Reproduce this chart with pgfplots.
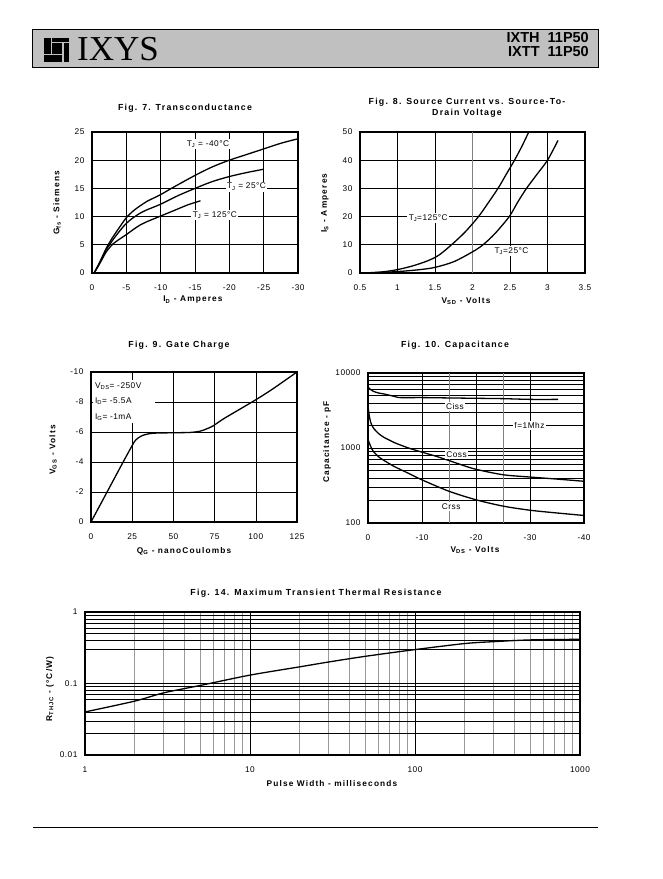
\documentclass[border=0pt]{standalone}
\usepackage{fontspec}
\setmainfont{Liberation Sans}[LetterSpace=6]
\newfontfamily\tfont{Liberation Sans}[LetterSpace=14]
\newfontfamily\plainfont{Liberation Sans}
\newfontfamily\seriffont{Liberation Serif}
\usepackage{pgfplots}
\pgfplotsset{compat=1.18}
\definecolor{hdr}{RGB}{192,192,192}
\pgfplotsset{ds/.style={anchor=south west, scale only axis,
  axis line style={line width=1.1pt},
  grid=major, major grid style={black, line width=0.6pt},
  major tick length=0pt, minor tick length=0pt,
  tick label style={font=\fontsize{8.3}{9}\selectfont},
  /pgf/number format/assume math mode=true,
  yticklabel style={xshift=-4pt}, xticklabel style={yshift=-8pt}},
  crv/.style={black, line width=1.3pt, smooth, no marks}}
\tikzset{ttl/.style={font=\tfont\bfseries\fontsize{8.8}{11}\selectfont, align=center},
  lab/.style={font=\tfont\bfseries\fontsize{8.3}{10}\selectfont},
  inl/.style={font=\fontsize{8.3}{10}\selectfont, fill=white, inner sep=1.5pt}}
\begin{document}
\begin{tikzpicture}[x=1pt,y=1pt]
\useasboundingbox (0,0) rectangle (662,879);
% header
\draw[fill=hdr, line width=1pt] (32,811) rectangle (598,849);
\fill[black] (44,817) rectangle (69,841);
\fill[hdr] (50.7,823.7) rectangle (52,841);
\fill[hdr] (51,835.7) rectangle (69,837);
\fill[hdr] (62.3,817) rectangle (63.5,837);
\fill[hdr] (44,823.7) rectangle (63.5,825);
\node[anchor=base west, inner sep=0, font=\seriffont\fontsize{35}{35}\selectfont] at (77,818) {IXYS};
\node[anchor=base east, inner sep=0, font=\plainfont\bfseries\fontsize{14.5}{14.5}\selectfont] at (589,836) {IXTH\ \ 11P50};
\node[anchor=base east, inner sep=0, font=\plainfont\bfseries\fontsize{14.5}{14.5}\selectfont] at (589,822) {IXTT\ \ 11P50};
\draw[line width=1pt] (33,51) -- (598,51);

% ---------------- Fig 7
\node[ttl] at (185,771) {Fig. 7. Transconductance};
\node[lab] at (193,579) {I\textsubscript{D} - Amperes};
\node[lab, rotate=90] at (57,676) {G\textsubscript{fs} - Siemens};
\begin{axis}[ds, at={(92pt,606pt)}, width=206pt, height=141pt,
  xmin=-30, xmax=0, x dir=reverse, ymin=0, ymax=25,
  xtick={0,-5,-10,-15,-20,-25,-30}, xticklabels={0,-5,-10,-15,-20,-25,-30},
  ytick={0,5,10,15,20,25}, yticklabels={0,5,10,15,20,25}]
\addplot[crv] coordinates {(-0.3,0) (-1,1.6) (-2,4.2) (-2.5,5.3) (-3,6.3) (-4,8.1) (-5,9.8) (-6,11.0) (-7,11.9) (-8,12.7) (-9,13.3) (-10,13.9) (-12,15.3) (-15,17.3) (-17.5,18.8) (-20,20) (-22.5,21) (-25,22) (-27.5,23) (-30,23.8)};
\addplot[crv] coordinates {(-0.3,0) (-1,1.5) (-2,4.0) (-2.5,4.9) (-3,5.8) (-4,7.4) (-5,8.8) (-6,9.8) (-7,10.6) (-8,11.2) (-10,12.2) (-12.5,13.7) (-15,15) (-17.5,16.2) (-20,17.1) (-22.5,17.8) (-25,18.4)};
\addplot[crv] coordinates {(-0.3,0) (-1,1.4) (-2,3.6) (-2.5,4.4) (-3,5.1) (-4,6.0) (-5,6.8) (-6,7.7) (-7,8.5) (-8,9.1) (-9,9.6) (-10,10.1) (-12,11.1) (-14,12.1) (-15.8,12.8)};
\node[inl] at (axis cs:-16.9,22.9) {T\textsubscript{J} = -40°C};
\node[inl] at (axis cs:-22.5,15.3) {T\textsubscript{J} = 25°C};
\node[inl] at (axis cs:-17.9,10.3) {T\textsubscript{J} = 125°C};
\end{axis}

% ---------------- Fig 8
\node[ttl] at (467,771) {Fig. 8. Source Current vs. Source-To-\\Drain Voltage};
\node[lab] at (466,578) {V\textsubscript{SD} - Volts};
\node[lab, rotate=90] at (325,676) {I\textsubscript{S} - Amperes};
\begin{axis}[ds, at={(360pt,606pt)}, width=225pt, height=141pt,
  xmin=0.5, xmax=3.5, ymin=0, ymax=50,
  xtick={0.5,1,1.5,2.5,3,3.5}, xticklabels={0.5,1,1.5,2.5,3,3.5},
  extra x ticks={2}, extra x tick labels={2},
  extra x tick style={major grid style={gray, line width=0.6pt}},
  ytick={0,10,20,30,40,50}, yticklabels={0,10,20,30,40,50}]
\addplot[crv] coordinates {(0.55,0) (0.8,0.4) (1.0,1.2) (1.2,2.5) (1.4,4.3) (1.55,6.3) (1.72,10) (1.9,14.5) (2.08,20) (2.2,24.5) (2.34,30) (2.45,35) (2.56,40) (2.66,45) (2.75,50)};
\addplot[crv] coordinates {(0.6,0) (1.0,0.5) (1.3,1.2) (1.5,2) (1.75,4) (2.0,7.5) (2.14,10) (2.3,14) (2.49,20) (2.6,25) (2.72,30) (2.86,35) (3.0,40) (3.14,47)};
\node[inl] at (axis cs:1.41,19.5) {T\textsubscript{J}=125°C};
\node[inl] at (axis cs:2.52,7.7) {T\textsubscript{J}=25°C};
\end{axis}

% ---------------- Fig 9
\node[ttl] at (179,534) {Fig. 9. Gate Charge};
\node[lab] at (184,328) {Q\textsubscript{G} - nanoCoulombs};
\node[lab, rotate=90] at (53,429) {V\textsubscript{GS} - Volts};
\begin{axis}[ds, at={(91pt,357pt)}, width=206pt, height=150pt,
  xmin=0, xmax=125, ymin=-10, ymax=0, y dir=reverse,
  xtick={0,25,50,75,100,125}, xticklabels={0,25,50,75,100,125},
  ytick={0,-2,-4,-6,-8,-10}, yticklabels={0,-2,-4,-6,-8,-10}]
\addplot[crv] coordinates {(0,0) (10,-2.05) (20,-4.1) (25,-5.1) (27,-5.45) (30,-5.7) (33,-5.83) (38,-5.92) (50,-5.95) (60,-5.97) (66,-6.05) (70,-6.2) (74,-6.4) (80,-6.85) (90,-7.5) (100,-8.15) (110,-8.85) (125,-10)};
\node[font=\fontsize{8.3}{15.5}\selectfont, fill=white, align=left, text width=58pt, anchor=north west, inner sep=2pt] at (axis cs:1.2,-9.45) {V\textsubscript{DS}= -250V\\I\textsubscript{D}= -5.5A\\I\textsubscript{G}= -1mA};
\end{axis}

% ---------------- Fig 10
\node[ttl] at (455,534) {Fig. 10. Capacitance};
\node[lab] at (475,329) {V\textsubscript{DS} - Volts};
\node[lab, rotate=90] at (327,437) {Capacitance - pF};
\begin{axis}[ds, at={(368pt,356pt)}, width=216pt, height=150pt,
  xmin=-40, xmax=0, x dir=reverse, ymode=log, ymin=100, ymax=10000,
  xtick={0,-10,-20,-30,-40}, xticklabels={0,-10,-20,-30,-40},
  extra x ticks={-15,-25}, extra x tick labels={},
  extra x tick style={major grid style={gray, line width=0.6pt}},
  ytick={100,1000,10000}, yticklabels={100,1000,10000},
  yminorgrids=true, xminorgrids=false, minor grid style={black, line width=0.6pt}]
\addplot[crv] coordinates {(0,6500) (-0.5,6000) (-1,5700) (-2,5400) (-3,5250) (-4,5050) (-5,4850) (-6,4700) (-10,4700) (-15,4650) (-20,4600) (-25,4550) (-30,4450) (-35.2,4450)};
\addplot[crv] coordinates {(0,3700) (-0.2,2800) (-0.5,2200) (-1,1850) (-2,1550) (-3,1380) (-4,1270) (-5,1170) (-7.5,1000) (-10,880) (-12.5,780) (-15,680) (-17.5,590) (-20,520) (-25,440) (-30,410) (-35,385) (-40,360)};
\addplot[crv] coordinates {(0,1300) (-0.5,1050) (-1,900) (-2,760) (-3,680) (-5,560) (-7.5,460) (-10,376) (-15,265) (-20,204) (-25,168) (-30,148) (-35,136) (-40,126)};
\node[inl] at (axis cs:-16.1,3540) {Ciss};
\node[inl] at (axis cs:-16.4,824) {Coss};
\node[inl] at (axis cs:-15.4,166) {Crss};
\node[inl] at (axis cs:-29.9,2020) {f=1Mhz};
\end{axis}

% ---------------- Fig 14
\node[ttl] at (316,286) {Fig. 14. Maximum Transient Thermal Resistance};
\node[lab] at (332,95) {Pulse Width - milliseconds};
\node[lab, rotate=90] at (50,190) {R\textsubscript{THJC} - (°C/W)};
\begin{axis}[ds, at={(85pt,124pt)}, width=495pt, height=143pt,
  xmode=log, ymode=log, xmin=1, xmax=1000, ymin=0.01, ymax=1,
  xtick={1,10,100,1000}, xticklabels={1,10,100,1000},
  ytick={0.01,0.1,1}, yticklabels={0.01,0.1,1},
  xminorgrids=true, yminorgrids=false, minor grid style={gray!80, line width=0.5pt},
  extra y ticks={0.02,0.03,0.04,0.06,0.07,0.08,0.09,0.3,0.4,0.5,0.6,0.7,0.8,0.9},
  extra y tick labels={},
  extra y tick style={major grid style={black, line width=0.6pt}}]
\addplot[crv] coordinates {(1,0.040) (2,0.0567) (3,0.074) (5,0.094) (10,0.131) (20,0.171) (30,0.20) (50,0.24) (100,0.298) (200,0.362) (300,0.385) (500,0.407) (1000,0.415)};
\end{axis}
\end{tikzpicture}
\end{document}
